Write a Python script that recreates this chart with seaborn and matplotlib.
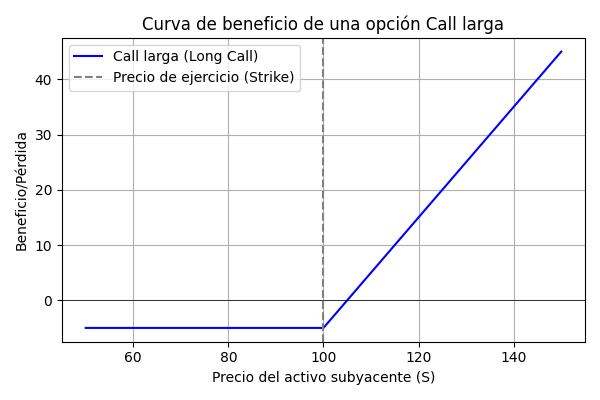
import matplotlib
matplotlib.use("Agg")
import matplotlib.pyplot as plt
import seaborn as sns

# --- Data ---
precio_activo = [50, 100, 150]
beneficio = [-5, -5, 45]
strike = 100

# --- Plot ---
fig, ax = plt.subplots(figsize=(6, 4), dpi=100)
sns.lineplot(x=precio_activo, y=beneficio, ax=ax, color="blue", label="Call larga (Long Call)")
ax.axhline(0, color="black", linewidth=0.5)
ax.axvline(strike, color="gray", linestyle="--", label="Precio de ejercicio (Strike)")
ax.set_title("Curva de beneficio de una opción Call larga")
ax.set_xlabel("Precio del activo subyacente (S)")
ax.set_ylabel("Beneficio/Pérdida")
ax.grid(True)
ax.legend(loc="upper left")
plt.tight_layout()
plt.savefig("out.png")
